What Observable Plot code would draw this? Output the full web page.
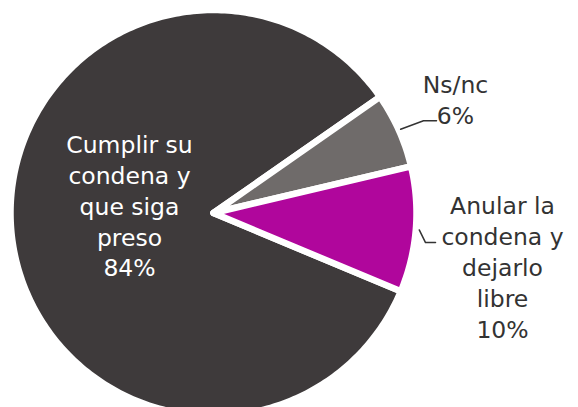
<!DOCTYPE html>
<html><head><meta charset="utf-8">
<script src="https://cdn.jsdelivr.net/npm/d3@7"></script>
<script src="https://cdn.jsdelivr.net/npm/@observablehq/plot@0.6"></script>
<style>body{margin:0;background:#fff}#chart svg{display:block}</style>
</head><body><div id="chart"></div>
<script>
const categories = ["Cumplir su condena y que siga preso", "Ns/nc", "Anular la condena y dejarlo libre"];
const values = [84, 6, 10];
const labelLines = ["Cumplir su\ncondena y\nque siga\npreso\n84%", "Ns/nc\n6%", "Anular la\ncondena y\ndejarlo\nlibre\n10%"];
const colors = ["#3e3a3b", "#6f6b6a", "#b0069c"];
const textColors = ["#ffffff", "#333333", "#333333"];

// layout
const W = 578, H = 407, cx = 213, cy = 212.5, R = 203;
const startDeg = 112.7;
const toRad = Math.PI / 180;
const pie = d3.pie().sort(null).value(d => d)
  .startAngle(startDeg * toRad).endAngle((startDeg + 360) * toRad)(values);

const polar = (a, r) => ({x: r * Math.sin(a), y: r * Math.cos(a)});
const px2 = (x, y) => ({x: (x - cx) / R, y: (cy - y) / R});
const data2px = (p) => ({x: cx + p.x * R, y: cy - p.y * R});

// slice polygons
const slicePts = [];
pie.forEach((p, i) => {
  const n = Math.max(4, Math.ceil((p.endAngle - p.startAngle) / toRad));
  slicePts.push({k: i, x: 0, y: 0, c: colors[i]});
  for (let j = 0; j <= n; j++) {
    const a = p.startAngle + (p.endAngle - p.startAngle) * j / n;
    slicePts.push({k: i, ...polar(a, 1), c: colors[i]});
  }
});

// label placement (radius factor along the slice mid-angle + pixel nudge)
const labelLayout = [
  {rf: 0.416, dx: 0, dy: -17},
  {rf: 1.306, dx: 0, dy: -6},
  {rf: 1.4286, dx: 0, dy: 29.4}
];
const labels = pie.map((p, i) => {
  const mid = (p.startAngle + p.endAngle) / 2;
  const q = data2px(polar(mid, labelLayout[i].rf));
  const P = {x: q.x + labelLayout[i].dx, y: q.y + labelLayout[i].dy};
  return {i, px: P.x, py: P.y, ...px2(P.x, P.y), text: labelLines[i], fill: textColors[i]};
});

// leader lines for outside labels: start on the rim, elbow, horizontal end (offsets from label anchor)
const leaderLayout = {1: {rf: 1.01, elbow: [-32, 22], end: [-19, 22]},
                      2: {rf: 1.017, elbow: [-77, -23.6], end: [-67, -23.6]}};
const leaderPts = [];
Object.entries(leaderLayout).forEach(([k, L]) => {
  const i = +k, p = pie[i], lab = labels[i];
  const mid = (p.startAngle + p.endAngle) / 2;
  leaderPts.push({k: i, ...polar(mid, L.rf)});
  leaderPts.push({k: i, ...px2(lab.px + L.elbow[0], lab.py + L.elbow[1])});
  leaderPts.push({k: i, ...px2(lab.px + L.end[0], lab.py + L.end[1])});
});

const chart = Plot.plot({
  width: W, height: H, margin: 0,
  style: {background: "#ffffff", overflow: "hidden"},
  x: {domain: [-1, 1], range: [cx - R, cx + R], axis: null},
  y: {domain: [-1, 1], range: [cy + R, cy - R], axis: null},
  color: {type: "identity"},
  marks: [
    Plot.line(slicePts, {x: "x", y: "y", z: "k", fill: "c", stroke: "#ffffff",
      strokeWidth: 6.5, strokeLinejoin: "round", curve: "linear-closed"}),
    Plot.line(leaderPts, {x: "x", y: "y", z: "k", stroke: "#333333", strokeWidth: 1.5}),
    Plot.text(labels, {x: "x", y: "y", text: "text", fill: "fill", fontSize: 23.5,
      lineHeight: 1.31, fontFamily: "DejaVu Sans", textAnchor: "middle"})
  ]
});
document.getElementById("chart").appendChild(chart);
</script>
</body></html>
